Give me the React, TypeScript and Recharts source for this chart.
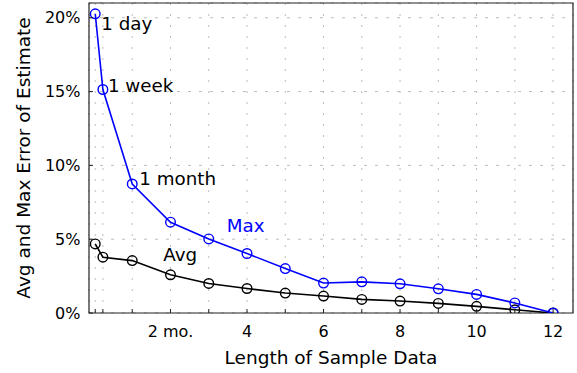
import React from 'react';
import {
  LineChart,
  Line,
  XAxis,
  YAxis,
  CartesianGrid,
  ReferenceArea,
  ReferenceDot,
} from 'recharts';

// sample length in months (1 day, 1 week, then whole months)
const months = [0.033, 0.233, 1, 2, 3, 4, 5, 6, 7, 8, 9, 10, 11, 12];
const maxError = [20.27, 15.14, 8.74, 6.15, 5.02, 4.03, 3.01, 2.03, 2.11, 1.98, 1.64, 1.26, 0.68, 0];
const avgError = [4.68, 3.78, 3.55, 2.59, 2.0, 1.66, 1.35, 1.15, 0.92, 0.81, 0.65, 0.45, 0.22, 0];
const pointNotes = ['1 day', '1 week', '1 month'];
const xTickLabels: Record<number, string> = { 2: '2 mo.', 4: '4', 6: '6', 8: '8', 10: '10', 12: '12' };
const yTicks = [0, 5, 10, 15, 20];
const seriesNames = [
  { name: 'Max', x: 3.47, y: 5.49, color: '#0000ff' },
  { name: 'Avg', x: 1.81, y: 3.49, color: '#000000' },
];

const data = months.map((m, i) => ({ month: m, max: maxError[i], avg: avgError[i] }));

const FONT = '"DejaVu Sans", sans-serif';
const BLUE = '#0000ff';
const noteOffsets = [
  [6, 16],
  [5, 2.5],
  [7, 1],
];

function XTick({ x, y, payload }: any) {
  const label = xTickLabels[payload.value];
  return (
    <g>
      <line x1={x} y1={y} x2={x} y2={y - 4} stroke="#222" strokeWidth={1} />
      {label && (
        <text x={x} y={y + 18.5} textAnchor="middle" dominantBaseline="central" fontSize={16} fill="#000" fontFamily={FONT}>
          {label}
        </text>
      )}
    </g>
  );
}

function YTick({ x, y, payload }: any) {
  return (
    <g>
      <line x1={x} y1={y} x2={x + 4} y2={y} stroke="#222" strokeWidth={1} />
      <text x={x - 8.5} y={y} textAnchor="end" dominantBaseline="central" fontSize={16} fill="#000" fontFamily={FONT}>
        {`${payload.value}%`}
      </text>
    </g>
  );
}

function MaxDot(props: any) {
  const { cx, cy, index } = props;
  const note = pointNotes[index];
  const off = noteOffsets[index];
  return (
    <g key={`max-dot-${index}`}>
      <circle cx={cx} cy={cy} r={4.8} stroke={BLUE} strokeWidth={1.4} fill="none" />
      {note && (
        <text x={cx + off[0]} y={cy + off[1]} fontSize={18.3} fill="#000" fontFamily={FONT}>
          {note}
        </text>
      )}
    </g>
  );
}

export default function App() {
  return (
    <div style={{ position: 'absolute', left: 0, top: 0, background: '#fff' }}>
      <LineChart width={577} height={373} data={data} margin={{ top: 3, right: 4, bottom: 0, left: 0 }}>
        <CartesianGrid horizontal={true} vertical={false} stroke="#bdbdbd" strokeDasharray="3 8" />
        <CartesianGrid horizontal={false} vertical={true} stroke="#bdbdbd" strokeDasharray="2 9" />
        <XAxis
          dataKey="month"
          type="number"
          domain={[-0.13, 12.52]}
          allowDataOverflow
          ticks={months}
          interval={0}
          height={60}
          tickSize={0}
          tickMargin={0}
          tickLine={false}
          axisLine={false}
          tick={<XTick />}
          label={{
            content: ({ viewBox }: any) => (
              <text
                x={viewBox.x + viewBox.width / 2}
                y={viewBox.y + 50.5}
                textAnchor="middle"
                fontSize={18.5}
                fill="#000"
                fontFamily={FONT}
              >
                Length of Sample Data
              </text>
            ),
          }}
        />
        <YAxis
          type="number"
          domain={[0, 21]}
          allowDataOverflow
          ticks={yTicks}
          width={89}
          tickSize={0}
          tickMargin={0}
          tickLine={false}
          axisLine={false}
          tick={<YTick />}
          label={{
            content: ({ viewBox }: any) => {
              const cy = viewBox.y + viewBox.height / 2;
              return (
                <text
                  x={23}
                  y={cy}
                  transform={`rotate(-90, 23, ${cy})`}
                  textAnchor="middle"
                  dominantBaseline="central"
                  fontSize={18.5}
                  fill="#000"
                  fontFamily={FONT}
                >
                  Avg and Max Error of Estimate
                </text>
              );
            },
          }}
        />
        <ReferenceArea x1={-0.13} x2={12.52} y1={0} y2={21} fill="none" stroke="#222" strokeWidth={1.2} ifOverflow="visible" />
        <Line
          dataKey="avg"
          type="linear"
          stroke="#000"
          strokeWidth={1.6}
          dot={{ r: 4.8, stroke: '#000', strokeWidth: 1.4, fill: 'none' }}
          activeDot={false}
          isAnimationActive={false}
        />
        <Line
          dataKey="max"
          type="linear"
          stroke={BLUE}
          strokeWidth={1.6}
          dot={<MaxDot />}
          activeDot={false}
          isAnimationActive={false}
        />
        {seriesNames.map((s) => (
          <ReferenceDot
            key={s.name}
            x={s.x}
            y={s.y}
            r={0}
            ifOverflow="visible"
            shape={(p: any) => (
              <text x={p.cx} y={p.cy} fontSize={18.3} fill={s.color} fontFamily={FONT}>
                {s.name}
              </text>
            )}
          />
        ))}
      </LineChart>
    </div>
  );
}
